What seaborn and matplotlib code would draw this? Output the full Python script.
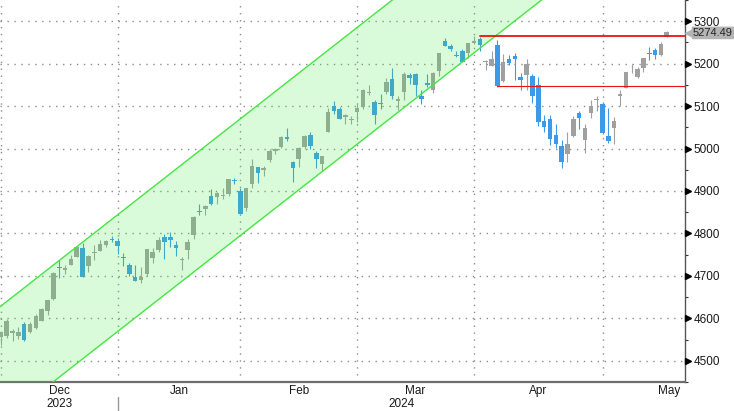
import numpy as np
import pandas as pd
import seaborn as sns
import matplotlib.pyplot as plt

# trading days, Nov 30 2023 .. May 15 2024 (US market holidays removed)
holidays = ["2023-12-25", "2024-01-01", "2024-01-15", "2024-02-19", "2024-03-29"]
dates = pd.bdate_range("2023-11-30", "2024-05-15").drop(pd.to_datetime(holidays))

opens = [4554.9, 4559.4, 4564.4, 4557.3, 4586.2, 4568.8, 4576.2, 4593.4, 4618.3, 4646.2,
         4721.0, 4714.2, 4725.6, 4743.7, 4764.7, 4724.3, 4753.9, 4758.9, 4773.5, 4786.4,
         4782.9, 4745.2, 4725.1, 4697.4, 4690.6, 4703.7, 4741.9, 4759.9, 4792.1, 4791.2,
         4772.4, 4739.1, 4760.1, 4796.3, 4853.4, 4856.8, 4888.6, 4886.7, 4888.9, 4893.0,
         4925.9, 4899.2, 4861.1, 4916.1, 4957.2, 4950.2, 4973.1, 4995.2, 5004.2, 5026.8,
         4967.9, 4976.4, 5003.1, 5031.1, 4989.3, 4963.0, 5038.8, 5100.9, 5093.0, 5074.6,
         5067.2, 5085.4, 5098.5, 5131.0, 5110.5, 5108.0, 5132.4, 5164.5, 5112.0, 5134.3,
         5173.5, 5175.1, 5123.3, 5154.8, 5139.1, 5181.7, 5253.4, 5242.5, 5219.5, 5228.9,
         5226.3, 5248.0, 5258.0, 5204.3, 5194.4, 5244.1, 5159.0, 5211.4, 5217.0, 5167.9,
         5173.0, 5171.5, 5149.7, 5064.6, 5069.0, 5031.5, 5005.4, 4987.3, 5028.9, 5084.9,
         5019.9, 5084.7, 5114.1, 5103.8, 5029.0, 5049.3, 5122.8, 5142.4, 5187.2, 5169.0,
         5189.0, 5225.5, 5233.1, 5221.1, 5263.3]
highs = [4569.9, 4599.4, 4574.1, 4578.6, 4590.7, 4590.9, 4609.2, 4623.7, 4643.9, 4709.7,
         4738.6, 4725.5, 4749.5, 4768.7, 4778.0, 4748.7, 4772.9, 4784.7, 4785.4, 4793.3,
         4788.4, 4754.3, 4729.3, 4726.8, 4721.5, 4764.5, 4765.5, 4790.8, 4798.5, 4802.4,
         4782.3, 4744.2, 4785.8, 4842.1, 4868.4, 4866.5, 4903.7, 4898.2, 4906.7, 4929.3,
         4931.1, 4906.8, 4907.0, 4975.3, 4957.2, 4957.8, 4999.9, 5000.4, 5030.1, 5048.4,
         4970.0, 5002.5, 5032.7, 5038.7, 4993.7, 4983.2, 5094.4, 5111.1, 5097.7, 5080.7,
         5077.4, 5105.0, 5140.3, 5149.7, 5114.5, 5128.0, 5165.6, 5189.3, 5124.7, 5179.9,
         5179.1, 5176.9, 5136.9, 5175.6, 5180.3, 5226.2, 5261.1, 5246.1, 5229.1, 5235.2,
         5249.3, 5264.9, 5264.0, 5208.3, 5228.8, 5256.6, 5222.2, 5219.6, 5224.8, 5178.4,
         5211.8, 5175.0, 5168.4, 5079.8, 5078.0, 5056.7, 5019.0, 5038.8, 5076.1, 5089.5,
         5057.8, 5114.6, 5123.5, 5110.8, 5096.1, 5073.2, 5139.1, 5181.0, 5200.2, 5192.0,
         5214.5, 5239.7, 5237.3, 5250.4, 5275.8]
lows = [4537.2, 4554.7, 4546.7, 4551.7, 4546.5, 4565.2, 4574.1, 4593.4, 4608.1, 4643.2,
        4694.3, 4704.7, 4725.6, 4743.7, 4697.8, 4708.4, 4736.8, 4758.5, 4768.9, 4781.0,
        4752.0, 4722.7, 4699.7, 4687.5, 4682.1, 4699.8, 4730.4, 4756.2, 4739.6, 4769.0,
        4747.1, 4714.8, 4740.6, 4785.9, 4844.1, 4844.4, 4865.9, 4869.3, 4881.5, 4887.4,
        4916.3, 4845.2, 4853.5, 4908.0, 4918.1, 4934.9, 4969.1, 4987.1, 5000.3, 5016.8,
        4920.3, 4956.5, 4999.4, 4999.5, 4955.0, 4946.0, 5038.8, 5081.5, 5068.9, 5057.3,
        5058.4, 5061.9, 5094.2, 5127.2, 5056.8, 5092.2, 5128.2, 5117.5, 5091.1, 5114.5,
        5151.9, 5123.3, 5104.4, 5145.5, 5131.6, 5171.6, 5240.7, 5229.9, 5216.1, 5203.4,
        5213.9, 5245.8, 5229.2, 5184.1, 5194.4, 5146.1, 5157.2, 5197.4, 5160.8, 5138.7,
        5138.8, 5107.9, 5052.5, 5039.8, 5007.3, 5001.9, 4953.6, 4969.4, 5028.0, 5047.0,
        4990.6, 5073.1, 5088.7, 5035.3, 5013.5, 5011.1, 5101.2, 5142.4, 5179.0, 5165.9,
        5180.4, 5209.7, 5211.2, 5218.0, 5263.0]
closes = [4567.8, 4594.6, 4569.8, 4567.2, 4549.3, 4585.6, 4604.4, 4622.4, 4643.7, 4707.1,
          4719.6, 4719.2, 4740.6, 4768.4, 4698.4, 4746.8, 4754.6, 4774.8, 4781.6, 4783.4,
          4769.8, 4742.8, 4704.8, 4688.7, 4697.2, 4763.5, 4756.5, 4783.5, 4780.2, 4783.8,
          4766.0, 4739.2, 4780.9, 4839.8, 4850.4, 4864.6, 4868.6, 4894.2, 4891.0, 4927.9,
          4925.0, 4845.7, 4906.2, 4958.6, 4942.8, 4954.2, 4995.1, 4997.9, 5026.6, 5021.8,
          4953.2, 5000.6, 5029.7, 5005.6, 4975.5, 4981.8, 5087.0, 5088.8, 5069.5, 5078.2,
          5069.8, 5096.3, 5137.1, 5131.0, 5078.7, 5104.8, 5157.4, 5123.7, 5117.9, 5175.3,
          5165.3, 5150.5, 5117.1, 5149.4, 5178.5, 5224.6, 5241.5, 5234.2, 5218.2, 5203.6,
          5248.5, 5254.4, 5243.8, 5205.8, 5211.5, 5147.2, 5204.3, 5202.4, 5209.9, 5160.6,
          5199.1, 5123.4, 5061.8, 5051.4, 5022.2, 5011.1, 4967.2, 5010.6, 5070.6, 5071.6,
          5048.4, 5100.0, 5116.2, 5035.7, 5018.4, 5064.2, 5127.8, 5180.7, 5187.7, 5187.7,
          5214.1, 5222.7, 5221.4, 5246.7, 5274.49]

# rising channel drawn on the chart (trading-day index -> price)
chan_x = [-1, 100]
chan_upper = [4618, 5705]
chan_lower = [4343, 5430]

# red horizontal levels
res_x, res_level = [82, 118], 5265
sup_x, sup_level = [85, 118], 5147

last_price = "5274.49"

up_color = "#a0a0a0"
down_color = "#3d9ae8"
text_color = "#1a1a1a"
fs = 8.5

sns.set_theme(style="white")
plt.rcParams["font.family"] = ["Liberation Sans", "DejaVu Sans"]

fig = plt.figure(figsize=(7.34, 4.11), dpi=100)
ax = fig.add_axes([0, 29 / 411, 685 / 734, 382 / 411])

idx = np.arange(len(dates))
o = np.array(opens)
c = np.array(closes)
cols = [up_color if cc >= oo else down_color for oo, cc in zip(o, c)]
body_lo = np.minimum(o, c)
body_h = np.maximum(np.abs(c - o), 2.3)
body_lo = np.where(np.abs(c - o) < 2.3, (o + c) / 2 - 1.15, body_lo)

ax.vlines(idx, lows, highs, colors=cols, lw=0.8, zorder=2)
ax.bar(idx, body_h, bottom=body_lo, width=0.78, color=cols, linewidth=0, zorder=2.1)

# channel
ax.fill_between(chan_x, chan_lower, chan_upper, color="#44ee44", alpha=0.2, lw=0, zorder=3)
sns.lineplot(x=chan_x, y=chan_upper, ax=ax, color="#44e644", lw=1, zorder=4)
sns.lineplot(x=chan_x, y=chan_lower, ax=ax, color="#44e644", lw=1, zorder=4)

ax.plot(res_x, [res_level] * 2, color="#ee1111", lw=1.3, zorder=5)
ax.plot(sup_x, [sup_level] * 2, color="#ee1111", lw=0.8, zorder=5)

xmax = 117.12
ax.set_xlim(-0.14, xmax)
ax.set_ylim(4463.1, 5343.8)

# month grid at last trading day of each month
months = dates.month.values
grid_pos = np.where(months[:-1] != months[1:])[0]
mids = list((grid_pos[:-1] + grid_pos[1:]) / 2) + [114.4]
month_names = [dates[g + 1].strftime("%b") for g in grid_pos]

ax.set_xticks(grid_pos)
ax.set_xticklabels([])
ax.set_xticks(mids, minor=True)
ax.set_xticklabels(month_names, minor=True)
ax.tick_params(axis="x", which="major", length=2, color="#666666", direction="out")
ax.tick_params(axis="x", which="minor", length=0, pad=2.5, labelsize=fs, labelcolor=text_color)

yt = np.arange(4500, 5301, 100)
ax.yaxis.tick_right()
ax.set_yticks(yt)
ax.set_yticks(np.arange(4450, 5351, 100), minor=True)
ax.tick_params(axis="y", which="major", length=0, pad=6, labelsize=fs, labelcolor=text_color)
ax.tick_params(axis="y", which="minor", length=2.5, width=0.8, color="#333333", direction="out")
ax.plot(np.full(len(yt), 1.005), yt, transform=ax.get_yaxis_transform(), marker=">",
        ms=4, color="black", ls="none", clip_on=False, zorder=6)

ax.grid(True, which="major", color="#8c8c8c", linestyle=(0, (1, 4)), lw=1)

for s in ["top", "left"]:
    ax.spines[s].set_visible(False)
ax.spines["right"].set_color("#555555")
ax.spines["right"].set_linewidth(1)
ax.spines["bottom"].set_color("#6e6e6e")
ax.spines["bottom"].set_linewidth(1.6)

# years
xt = ax.get_xaxis_transform()
ax.text((grid_pos[0] + grid_pos[1]) / 2, -0.058, "2023", transform=xt, ha="center",
        va="center", fontsize=fs, color=text_color)
ax.text((grid_pos[1] + xmax) / 2, -0.058, "2024", transform=xt, ha="center",
        va="center", fontsize=fs, color=text_color)
ax.plot([grid_pos[1]] * 2, [-0.038, -0.075], transform=xt, color="#999999", lw=1, clip_on=False)

# last price tag, nudged a touch below the 5300 label
yt_tr = ax.get_yaxis_transform()
tag_y = float(last_price) - 2
ax.plot([1.007], [tag_y], transform=yt_tr, marker="<", ms=7.5, color="#b4b4b4",
        ls="none", clip_on=False, zorder=6)
ax.text(1.0 + 8 / 685, tag_y, last_price, transform=yt_tr, ha="left", va="center",
        fontsize=8, color="#222222", clip_on=False, zorder=7,
        bbox=dict(boxstyle="round,pad=0.12", fc="#b4b4b4", ec="none"))

fig.savefig("out.png", dpi=100)
